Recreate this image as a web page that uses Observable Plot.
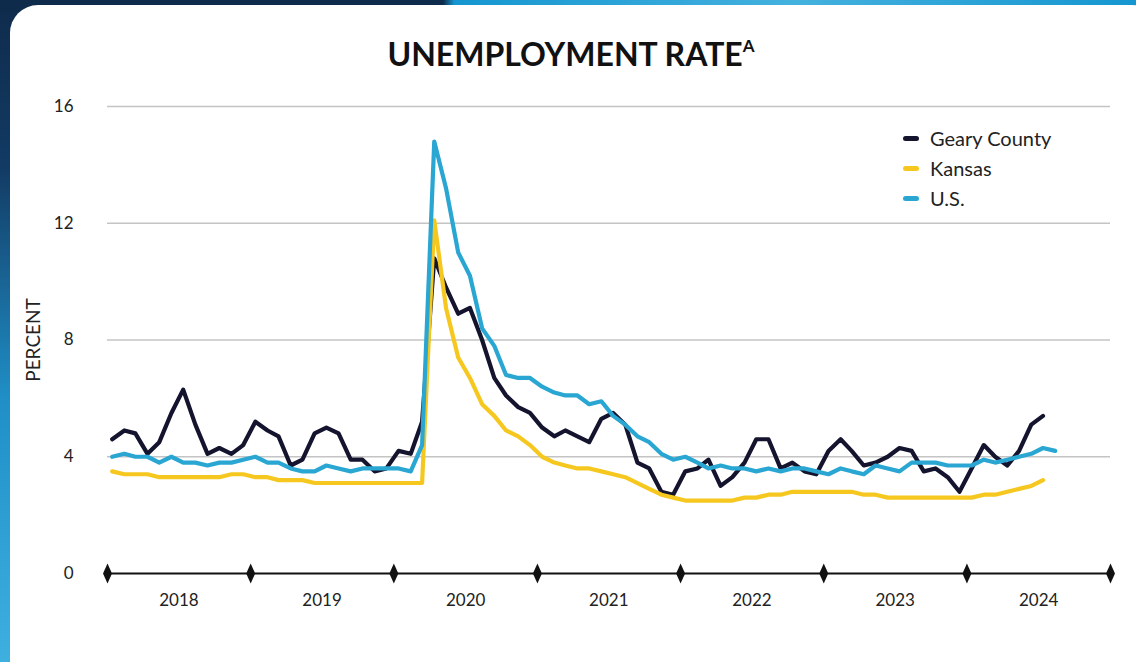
<!DOCTYPE html>
<html><head><meta charset="utf-8">
<script src="https://cdn.jsdelivr.net/npm/d3@7"></script>
<script src="https://cdn.jsdelivr.net/npm/@observablehq/plot@0.6"></script>
<style>
html,body{margin:0;padding:0;width:1136px;height:662px;overflow:hidden;}
body{background:linear-gradient(180deg,#0f2b4c 0%,#123a63 25%,#1f8fc6 60%,#3db0e0 100%);position:relative;font-family:Lato,"Open Sans",sans-serif;}
#topstrip{position:absolute;left:0;top:0;width:1136px;height:12px;background:linear-gradient(90deg,#0f2b4c 0%,#0f2b4c 39%,#1596d0 40%,#45b1de 70%,#1596d0 100%);}
#card{position:absolute;left:10px;top:5px;width:1150px;height:700px;background:#fff;border-radius:28px;}
#title{position:absolute;left:0;top:34px;width:1142px;text-align:center;font-weight:700;font-size:32px;color:#111;}
#title sup{font-size:17px;position:relative;top:-2px;}
#chart{position:absolute;left:0;top:80px;}
#legend{position:absolute;left:903px;top:123px;font-size:20px;color:#222;}
.item{height:30px;display:flex;align-items:center;}
.sw{width:16px;height:5px;border-radius:3px;margin-right:11px;}
</style></head>
<body>
<div id="topstrip"></div>
<div id="card"></div>
<div id="title">UNEMPLOYMENT RATE<sup>A</sup></div>
<div id="chart"></div>
<div id="legend"></div>
<script>
const seriesNames = ["Geary County", "Kansas", "U.S."];
const seriesColors = ["#14142f", "#f6c81f", "#2aa6d3"];
const startMonth = "2018-01";
const geary = [4.6,4.9,4.8,4.1,4.5,5.5,6.3,5.1,4.1,4.3,4.1,4.4,
  5.2,4.9,4.7,3.7,3.9,4.8,5.0,4.8,3.9,3.9,3.5,3.6,
  4.2,4.1,5.2,10.8,9.8,8.9,9.1,8.0,6.7,6.1,5.7,5.5,
  5.0,4.7,4.9,4.7,4.5,5.3,5.5,5.1,3.8,3.6,2.8,2.7,
  3.5,3.6,3.9,3.0,3.3,3.8,4.6,4.6,3.6,3.8,3.5,3.4,
  4.2,4.6,4.2,3.7,3.8,4.0,4.3,4.2,3.5,3.6,3.3,2.8,
  3.6,4.4,4.0,3.7,4.2,5.1,5.4];
const kansas = [3.5,3.4,3.4,3.4,3.3,3.3,3.3,3.3,3.3,3.3,3.4,3.4,
  3.3,3.3,3.2,3.2,3.2,3.1,3.1,3.1,3.1,3.1,3.1,3.1,
  3.1,3.1,3.1,12.1,9.1,7.4,6.7,5.8,5.4,4.9,4.7,4.4,
  4.0,3.8,3.7,3.6,3.6,3.5,3.4,3.3,3.1,2.9,2.7,2.6,
  2.5,2.5,2.5,2.5,2.5,2.6,2.6,2.7,2.7,2.8,2.8,2.8,
  2.8,2.8,2.8,2.7,2.7,2.6,2.6,2.6,2.6,2.6,2.6,2.6,
  2.6,2.7,2.7,2.8,2.9,3.0,3.2];
const us = [4.0,4.1,4.0,4.0,3.8,4.0,3.8,3.8,3.7,3.8,3.8,3.9,
  4.0,3.8,3.8,3.6,3.5,3.5,3.7,3.6,3.5,3.6,3.6,3.6,
  3.6,3.5,4.4,14.8,13.2,11.0,10.2,8.4,7.8,6.8,6.7,6.7,
  6.4,6.2,6.1,6.1,5.8,5.9,5.4,5.1,4.7,4.5,4.1,3.9,
  4.0,3.8,3.6,3.7,3.6,3.6,3.5,3.6,3.5,3.6,3.6,3.5,
  3.4,3.6,3.5,3.4,3.7,3.6,3.5,3.8,3.8,3.8,3.7,3.7,
  3.7,3.9,3.8,3.9,4.0,4.1,4.3,4.2];
const years = [2018,2019,2020,2021,2022,2023,2024];
const yTicks = [0,4,8,12,16];

const start = d3.utcParse("%Y-%m")(startMonth);
const toRows = (vals, name) => vals.map((v,i)=>({date: d3.utcDay.offset(d3.utcMonth.offset(start,i),12), value:v, series:name}));
const rows = [...toRows(geary,seriesNames[0]), ...toRows(kansas,seriesNames[1]), ...toRows(us,seriesNames[2])];
const boundaries = [...years, years[years.length-1]+1].map(y=>new Date(Date.UTC(y,0,1)));
const yearMids = years.map(y=>({date:new Date(Date.UTC(y,6,2)), label:String(y)}));

const diamond = {draw(ctx){ctx.moveTo(0,-10);ctx.lineTo(4.5,0);ctx.lineTo(0,10);ctx.lineTo(-4.5,0);ctx.closePath();}};

const plot = Plot.plot({
  width:1136, height:560,
  marginTop:26, marginBottom:67, marginLeft:107, marginRight:26,
  style:{fontFamily:"Lato, 'Open Sans', sans-serif", fontSize:"17px", color:"#222", background:"transparent"},
  x:{type:"utc", domain:[boundaries[0], boundaries[boundaries.length-1]], axis:null},
  y:{domain:[0,16], axis:null},
  color:{domain:seriesNames, range:seriesColors},
  marks:[
    Plot.gridY(yTicks.filter(d=>d>0), {stroke:"#c4c4c4", strokeOpacity:1, strokeWidth:1.3}),
    Plot.axisY(yTicks, {tickSize:0, tickPadding:34, fontSize:17, label:null}),
    Plot.text(["PERCENT"], {frameAnchor:"left", textAnchor:"middle", dx:-74, rotate:-90, text:d=>d, fontSize:19}),
    Plot.line(rows, {x:"date", y:"value", z:"series", stroke:"series", strokeWidth:4.2, strokeLinejoin:"round", strokeLinecap:"round"}),
    Plot.ruleY([0], {stroke:"#111", strokeWidth:2}),
    Plot.dot(boundaries, {x:d=>d, y:0, symbol:diamond, fill:"#111", stroke:null, r:10}),
    Plot.text(yearMids, {x:"date", y:0, text:"label", dy:27, fontSize:17})
  ]
});
document.getElementById("chart").appendChild(plot);

const legend = document.getElementById("legend");
seriesNames.forEach((n,i)=>{
  const it = document.createElement("div"); it.className="item";
  const sw = document.createElement("div"); sw.className="sw"; sw.style.background=seriesColors[i];
  const t = document.createElement("span"); t.textContent=n;
  it.appendChild(sw); it.appendChild(t); legend.appendChild(it);
});
</script>
</body></html>
